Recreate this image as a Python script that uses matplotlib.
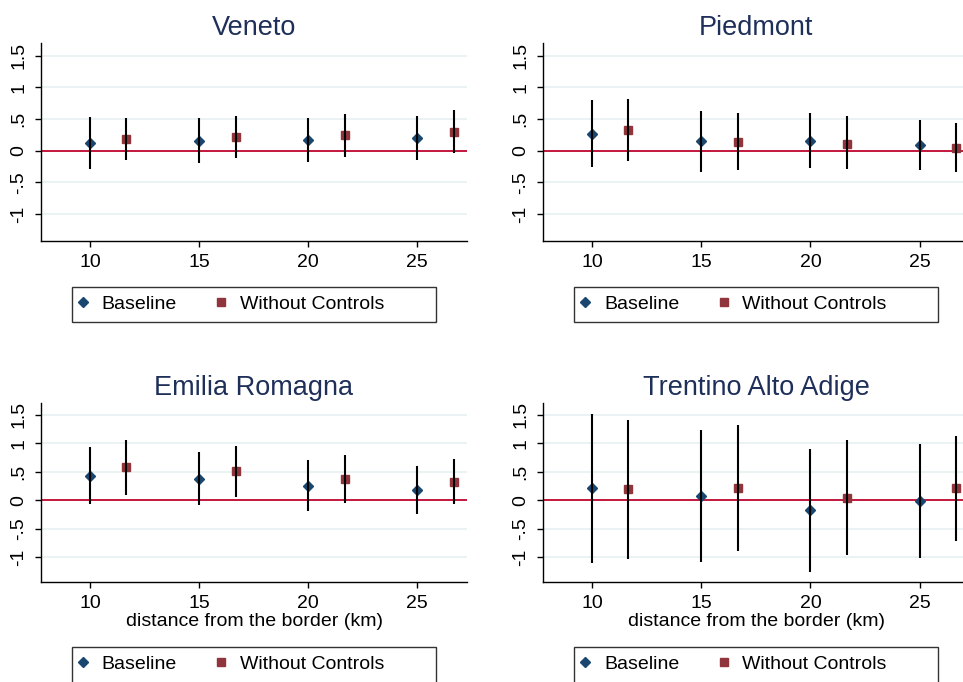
import matplotlib
matplotlib.use("Agg")
import matplotlib.pyplot as plt
from matplotlib.patches import Rectangle

plt.rcParams['font.family'] = ['Liberation Sans', 'DejaVu Sans']

# ---------------- data ----------------
regions = ["Veneto", "Piedmont", "Emilia Romagna", "Trentino Alto Adige"]
dist_base = [10, 15, 20, 25]
dist_noctrl = [11.67, 16.67, 21.67, 26.67]

base_coef = [[0.12, 0.16, 0.17, 0.20],
             [0.27, 0.15, 0.16, 0.09],
             [0.43, 0.38, 0.25, 0.18],
             [0.21, 0.08, -0.17, -0.02]]
base_lo = [[-0.29, -0.19, -0.18, -0.14],
           [-0.26, -0.33, -0.27, -0.31],
           [-0.06, -0.08, -0.18, -0.24],
           [-1.10, -1.08, -1.25, -1.01]]
base_hi = [[0.53, 0.52, 0.52, 0.55],
           [0.80, 0.63, 0.60, 0.49],
           [0.93, 0.85, 0.70, 0.61],
           [1.52, 1.24, 0.90, 0.98]]

noctrl_coef = [[0.19, 0.22, 0.24, 0.30],
               [0.32, 0.14, 0.11, 0.05],
               [0.58, 0.51, 0.37, 0.33],
               [0.195, 0.21, 0.05, 0.21]]
noctrl_lo = [[-0.15, -0.11, -0.10, -0.04],
             [-0.17, -0.31, -0.29, -0.33],
             [0.095, 0.06, -0.05, -0.06],
             [-1.03, -0.89, -0.96, -0.72]]
noctrl_hi = [[0.52, 0.55, 0.58, 0.64],
             [0.81, 0.59, 0.54, 0.44],
             [1.065, 0.95, 0.79, 0.73],
             [1.40, 1.32, 1.06, 1.12]]

xticks = [10, 15, 20, 25]
yticks = [-1, -0.5, 0, 0.5, 1, 1.5]
ytick_labels = ["-1", "-.5", "0", ".5", "1", "1.5"]
series_labels = ["Baseline", "Without Controls"]

# ---------------- style ----------------
W, H = 963, 682
NAVY = "#1a476f"
MAROON = "#90353b"
ZERO = "#c4163c"
GRID = "#e8f0f2"
TITLE = "#1e2f5a"

fig = plt.figure(figsize=(W / 100, H / 100), dpi=100)
fig.patch.set_facecolor("white")

def px(x0, y0, x1, y1):
    return [x0 / W, 1 - y1 / H, (x1 - x0) / W, (y1 - y0) / H]

axes_px = [(41.3, 43, 466.7, 241.3),
           (543.3, 43, 969, 241.3),
           (41.3, 403.3, 466.7, 582),
           (543.3, 403.3, 969, 582)]
legend_px = [(71.7, 286.7, 435.7, 322),
             (574, 286.7, 937.7, 322),
             (71.7, 646.7, 435.7, 683),
             (574, 646.7, 937.7, 683)]

for i, name in enumerate(regions):
    ax = fig.add_axes(px(*axes_px[i]))
    ax.set_xlim(7.77, 27.26)
    ax.set_ylim(-1.43, 1.70)
    for yv in yticks:
        if yv != 0:
            ax.axhline(yv, color=GRID, lw=1.2, zorder=0)
    ax.axhline(0, color=ZERO, lw=1.4, zorder=1)

    hb, = ax.plot(dist_base, base_coef[i], linestyle="none", marker="D",
                  ms=5.2, color=NAVY, mec=NAVY, zorder=2)
    hn, = ax.plot(dist_noctrl, noctrl_coef[i], linestyle="none", marker="s",
                  ms=5.5, color=MAROON, mec=MAROON, zorder=2)
    ax.vlines(dist_base, base_lo[i], base_hi[i], color="black", lw=1.5, zorder=3)
    ax.vlines(dist_noctrl, noctrl_lo[i], noctrl_hi[i], color="black", lw=1.5, zorder=3)

    ax.set_xticks(xticks)
    ax.set_yticks(yticks)
    ax.set_yticklabels(ytick_labels, rotation=90, va="center")
    ax.tick_params(axis="both", labelsize=14, length=4, width=1, direction="out")
    ax.tick_params(axis="y", pad=6)
    ax.tick_params(axis="x", pad=5)
    for s in ["top", "right"]:
        ax.spines[s].set_visible(False)
    for s in ["left", "bottom"]:
        ax.spines[s].set_linewidth(1)
    ax.set_title(name, fontsize=19.5, color=TITLE, pad=6)
    if i >= 2:
        ax.set_xlabel("distance from the border (km)", fontsize=14, labelpad=1)

    # legend
    lx0, ly0, lx1, ly1 = legend_px[i]
    fig.patches.append(Rectangle((lx0 / W, 1 - ly1 / H), (lx1 - lx0) / W, (ly1 - ly0) / H,
                                 transform=fig.transFigure, fill=False,
                                 edgecolor="#333333", lw=1.0))
    fig.legend([hb, hn], series_labels, loc="center left",
               bbox_to_anchor=((lx0 + 1.6) / W, 1 - ((ly0 + 17.6) / H)),
               ncol=2, frameon=False, fontsize=14, borderaxespad=0, borderpad=0,
               handlelength=1.0, handletextpad=0.46, columnspacing=1.78,
               numpoints=1, markerscale=1.0)

fig.savefig("out.png", dpi=100, facecolor="white")
